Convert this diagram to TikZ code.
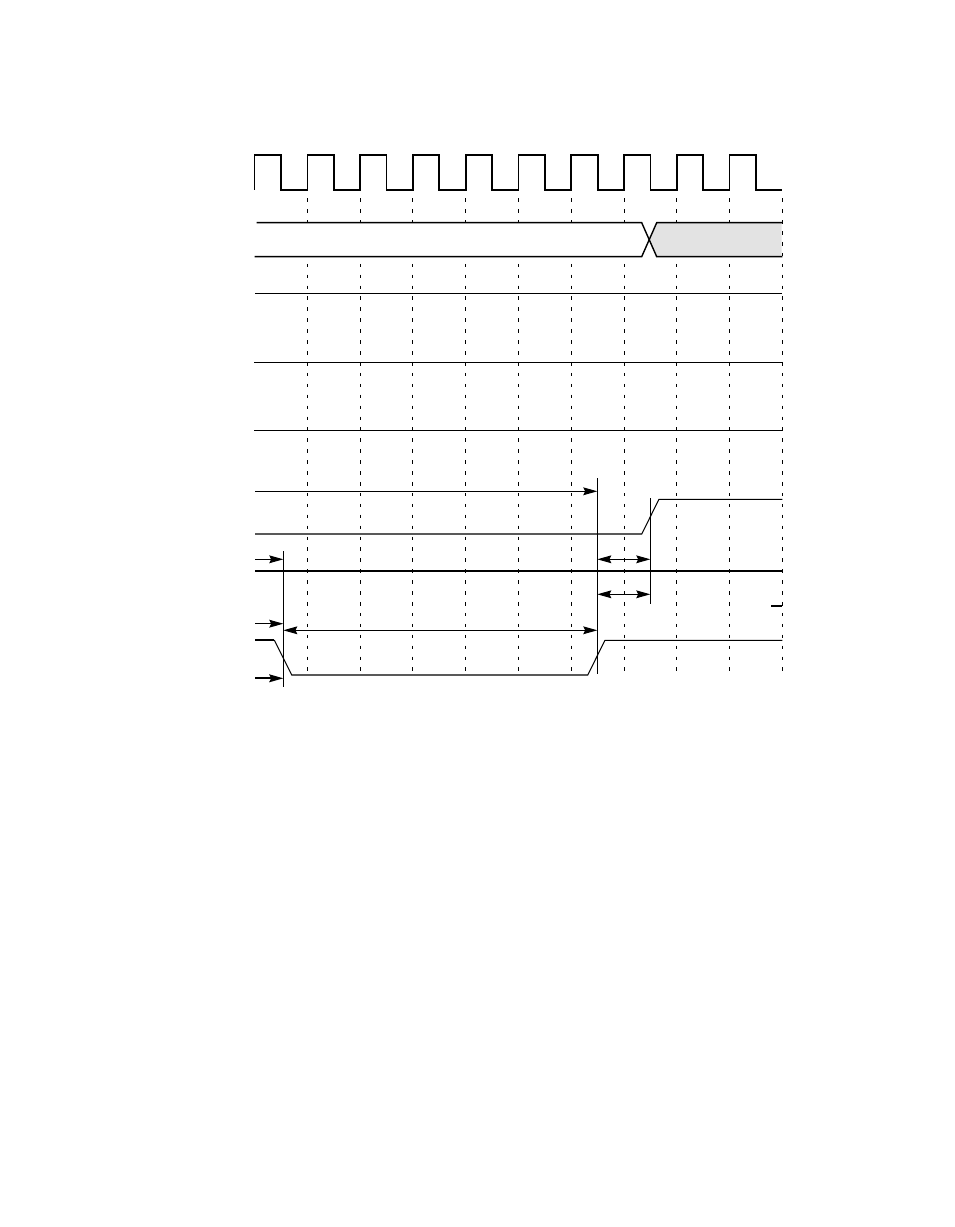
\documentclass[tikz,border=0pt]{standalone}
\usetikzlibrary{arrows.meta}

\begin{document}
\begin{tikzpicture}[x=0.6416pt, y=-0.6416pt]
    \tikzstyle{clk} = [line width=1.1pt, line join=miter]
    \tikzstyle{tck} = [line width=0.65pt, dash pattern=on 2.3pt off 4.7pt]
    \tikzstyle{sig} = [line width=0.65pt]
    \tikzstyle{bus} = [line width=0.9pt]
    \tikzstyle{hvy} = [line width=1.15pt]
    \tikzstyle{tip} = [-{Stealth[length=9pt, width=5pt, inset=1.2pt]}]
    \tikzstyle{tips} = [{Stealth[length=9pt, width=5pt, inset=1.2pt]}-{Stealth[length=9pt, width=5pt, inset=1.2pt]}]
    \useasboundingbox (0, 0) rectangle (954, 1227);
    \def\P{52.78}
    \foreach \k in {1, ..., 10}
      \draw[tck] (254.6 + \k * \P, 198.3) -- (254.6 + \k * \P, 672);
    \draw[clk] (254.6, 190) \foreach \k in {0, ..., 9}
      { -- ++(0, -34.7) -- ++(\P / 2, 0) -- ++(0, 34.7) -- ++(\P / 2, 0) };
    \fill[white] (256.6, 222.7) -- (641.7, 222.7) -- (649.2, 239.7) -- (641.7, 256.7) -- (254.6, 256.7) -- cycle;
    \fill[gray!22] (656.7, 222.7) -- (781.6, 222.7) -- (781.6, 256.7) -- (656.7, 256.7) -- (649.2, 239.7) -- cycle;
    \draw[bus] (256.6, 222.7) -- (641.7, 222.7) -- (656.7, 256.7) -- (782.4, 256.7);
    \draw[bus] (254.6, 256.7) -- (641.7, 256.7) -- (656.7, 222.7) -- (782.4, 222.7);
    \draw[sig] (255, 293.3) -- (782.4, 293.3);
    \draw[sig] (254, 362.3) -- (782.4, 362.3);
    \draw[sig] (254, 430.7) -- (782.4, 430.7);
    \coordinate (m1t) at (283.3, 551);
    \coordinate (m1b) at (283.3, 687.3);
    \coordinate (m2t) at (597.3, 478.3);
    \coordinate (m2b) at (597.3, 674);
    \coordinate (m3t) at (650.3, 498.3);
    \coordinate (m3b) at (650.3, 604.3);
    \draw[sig] (m1t) -- (m1b);
    \draw[sig] (m2t) -- (m2b);
    \draw[sig] (m3t) -- (m3b);
    \draw[sig] (255, 534) -- (641.7, 534) -- (659, 499.3) -- (782.4, 499.3);
    \draw[hvy] (255, 570.7) -- (782.4, 570.7);
    \draw[hvy] (771, 605.7) -- (782.4, 605.7);
    \draw[hvy] (255, 640) -- (274.3, 640);
    \draw[sig] (274.3, 640) -- (291.7, 675) -- (587.7, 675) -- (605, 640.3) -- (782.4, 640.3);
    \draw[sig, tip] (255, 491.3) -- (m2t |- 0, 491.3);
    \draw[sig, tip] (255, 559.3) -- (m1t |- 0, 559.3);
    \draw[sig, tips] (m2t |- 0, 559.3) -- (m3t |- 0, 559.3);
    \draw[sig, tips] (m2t |- 0, 594.3) -- (m3t |- 0, 594.3);
    \draw[sig, tip] (255, 623.7) -- (m1t |- 0, 623.7);
    \draw[sig, tips] (m1t |- 0, 630.3) -- (m2t |- 0, 630.3);
    \draw[hvy, tip] (255, 678.3) -- (m1t |- 0, 678.3);
\end{tikzpicture}
\end{document}
